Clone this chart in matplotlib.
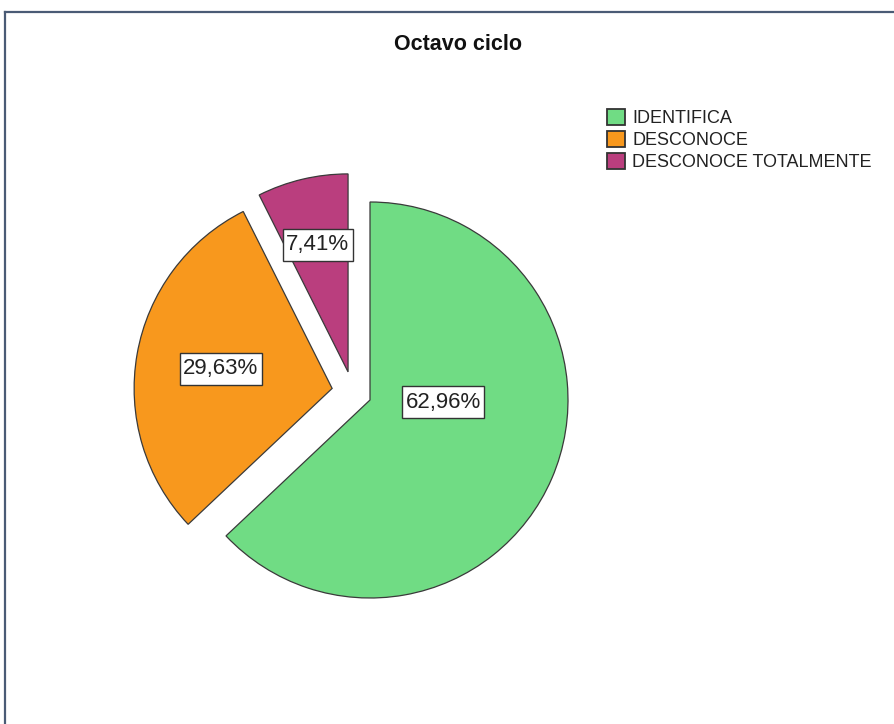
import numpy as np
import matplotlib
matplotlib.use("Agg")
import matplotlib.pyplot as plt
from matplotlib.lines import Line2D
from matplotlib.path import Path

plt.rcParams['font.family'] = ['Liberation Sans', 'DejaVu Sans']

# ---- data ----
title = "Octavo ciclo"
categories = ["IDENTIFICA", "DESCONOCE", "DESCONOCE TOTALMENTE"]
percentages = [62.96, 29.63, 7.41]
pct_labels = ["62,96%", "29,63%", "7,41%"]

# ---- styles ----
colors = ["#70DC84", "#F8981D", "#BA3E7E"]
explode_dist = [0.0, 0.20, 0.18]
explode_dir = [0.0, 163.0, 128.0]      # degrees
label_r = [0.37, 0.57, 0.66]
label_shift = [21.7, 0.0, 0.0]          # degrees added to wedge mid-angle


def label_box(x0, y0, width, height, mutation_size):
    px = 0.14 * mutation_size
    py = 0.24 * mutation_size
    x0, y0 = x0 - px, y0 - py
    x1, y1 = x0 + width + 2 * px, y0 + height + 2 * py
    return Path([(x0, y0), (x1, y0), (x1, y1), (x0, y1), (x0, y0)], closed=True)


W, H = 895, 724
fig = plt.figure(figsize=(W / 100, H / 100), dpi=100)
fig.patch.set_facecolor("white")

R = 198.0
cx, cy = 370.0, 400.0
half = 1.5 * R
ax = fig.add_axes([(cx - half) / W, (H - (cy + half)) / H, 2 * half / W, 2 * half / H])

wedges, _ = ax.pie(percentages, colors=colors, startangle=90, counterclock=False,
                   radius=1.0, wedgeprops=dict(edgecolor="#3a3a3a", linewidth=0.9))
ax.set_xlim(-1.5, 1.5)
ax.set_ylim(-1.5, 1.5)
ax.set_aspect("equal")
ax.axis("off")

for i, w in enumerate(wedges):
    d = explode_dist[i]
    a = np.deg2rad(explode_dir[i])
    ox, oy = d * np.cos(a), d * np.sin(a)
    w.set_center((ox, oy))
    mid = np.deg2rad((w.theta1 + w.theta2) / 2 + label_shift[i])
    lx = ox + label_r[i] * np.cos(mid)
    ly = oy + label_r[i] * np.sin(mid)
    ax.text(lx, ly, pct_labels[i], ha="center", va="center", fontsize=16,
            color="#222222",
            bbox=dict(boxstyle=label_box, facecolor="white",
                      edgecolor="#333333", linewidth=1.0))

fig.text(458.5 / W, 1 - 44 / H, title, ha="center", va="center",
         fontsize=15.5, fontweight="bold", color="#111111")

leg = fig.legend(wedges, categories, loc="upper left",
                 bbox_to_anchor=(607 / W, 1 - 109 / H), frameon=False,
                 fontsize=13, handlelength=1.0, handleheight=1.0,
                 handletextpad=0.4, labelspacing=0.2, borderpad=0,
                 borderaxespad=0)
for t in leg.get_texts():
    t.set_color("#222222")
for p in leg.get_patches():
    p.set_linewidth(1.3)
    p.set_edgecolor("#333333")

frame_col = "#4A5B75"
fig.add_artist(Line2D([5.5 / W, 5.5 / W], [0, 1 - 12 / H], transform=fig.transFigure,
                      color=frame_col, linewidth=1.6))
fig.add_artist(Line2D([5.5 / W, 1], [1 - 12 / H, 1 - 12 / H], transform=fig.transFigure,
                      color=frame_col, linewidth=1.6))

fig.savefig("out.png", dpi=100, facecolor="white")
